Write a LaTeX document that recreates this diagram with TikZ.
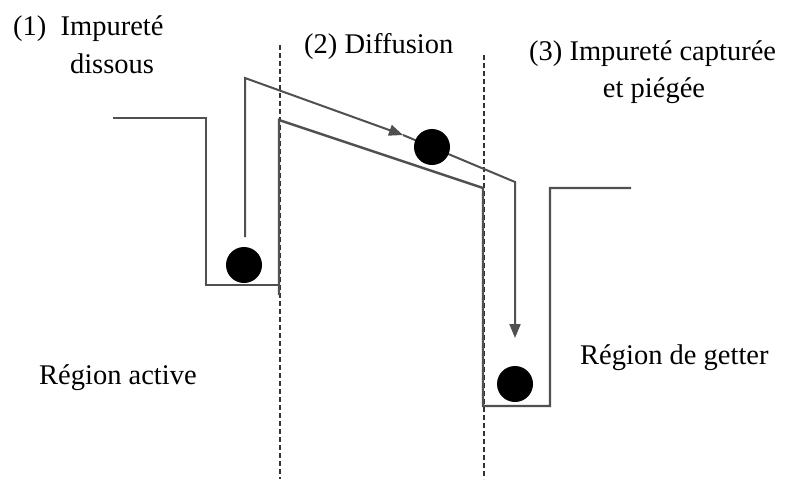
\documentclass[tikz,border=0pt]{standalone}
\usepackage{fontspec}
\setmainfont{Liberation Serif}
\newfontfamily\figfont{Liberation Serif}
\usetikzlibrary{arrows.meta}
\definecolor{linegray}{RGB}{80,80,80}
\begin{document}
\begin{tikzpicture}[x=1pt,y=-1pt,
  profile/.style={draw=linegray,line width=2.4pt},
  track/.style={draw=linegray,line width=2pt},
  tip/.style={-{Triangle[length=14pt,width=11pt]}},
  divider/.style={draw=black!80,line width=1.6pt,dash pattern=on 5pt off 3pt},
  ball/.style={circle,fill=black,minimum size=36pt,inner sep=0pt},
  label/.style={font=\figfont\fontsize{28.5}{34}\selectfont,inner sep=0pt,anchor=base west}]
\useasboundingbox (0,0) rectangle (786,479);
% dividers
\coordinate (d1t) at (280,45); \coordinate (d1b) at (280,479);
\coordinate (d2t) at (484,55); \coordinate (d2b) at (484,479);
\draw[divider] (d1t) -- (d1b);
\draw[divider] (d2t) -- (d2b);
% energy profile
\draw[profile] (113,118) -- (206,118) -- (206,285) -- (278,285);
\draw[profile] (279,295) -- (279,120) -- (483,188) -- (483,406) -- (550,406) -- (550,188) -- (631,188);
% path of impurity
\coordinate (p0) at (245,237);
\coordinate (p1) at (245,78);
\coordinate (pa) at (403,135);
\coordinate (p2) at (515,182);
\coordinate (pb) at (515,338);
\draw[track,tip] (p0) -- (p1) -- (pa);
\draw[track,tip] (pa) -- (p2) -- (pb);
% impurities
\node[ball] (b1) at (244,265) {};
\node[ball] (b2) at (432,147) {};
\node[ball] (b3) at (515,384) {};
% labels
\node[label] (t1) at (13,35) {(1)\ \ Impureté};
\node[label,anchor=base] (t1b) at (112,73) {dissous};
\node[label] (t2) at (304,53) {(2) Diffusion};
\node[label] (t3) at (529,60) {(3) Impureté capturée};
\node[label,anchor=base] (t3b) at (654,97) {et piégée};
\node[label] (t4) at (39,384) {Région active};
\node[label] (t5) at (580,364) {Région de getter};
\end{tikzpicture}
\end{document}
